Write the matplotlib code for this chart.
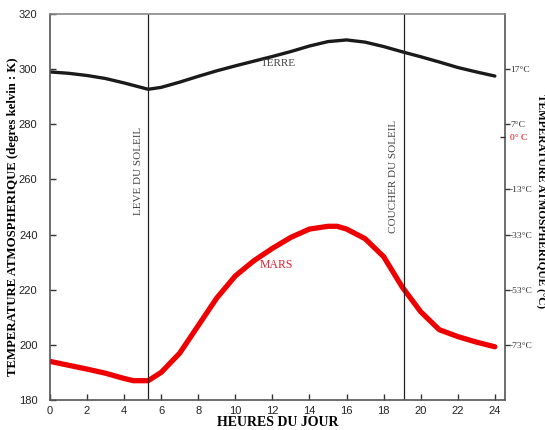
import matplotlib.pyplot as plt

plt.rcParams.update({'font.size': 8})

# heures du jour
hours_terre = [0, 1, 2, 3, 4, 5.3, 6, 7, 8, 9, 10, 11, 12, 13, 14, 15, 16,
               17, 18, 19, 20, 21, 22, 23, 24]
terre = [299, 298.5, 297.7, 296.6, 295, 292.7, 293.4, 295.3, 297.4, 299.4,
         301.2, 302.9, 304.6, 306.4, 308.4, 310.0, 310.6, 309.8, 308.2, 306.3,
         304.5, 302.6, 300.6, 299, 297.5]

hours_mars = [0, 1, 2, 3, 4, 4.5, 5.3, 6, 7, 8, 9, 10, 11, 12, 13, 14, 15,
              15.5, 16, 17, 18, 19, 20, 21, 22, 23, 24]
mars = [194, 192.6, 191.2, 189.7, 187.8, 187, 187, 190, 197, 207, 217, 225,
        230.5, 235, 239, 242, 243, 243, 242, 238.5, 232, 221, 212, 205.5,
        203, 201, 199.3]

lever, coucher = 5.3, 19.1

kelvin_ticks = [180, 200, 220, 240, 260, 280, 300, 320]
hour_ticks = list(range(0, 25, 2))
celsius_pos = [300, 280, 275.5, 256.5, 240, 220, 200]
celsius_labels = ['17°C', '7°C', '0° C', '-13°C', '-33°C', '-53°C', '-73°C']

serif = 'Liberation Serif'
sans = 'Liberation Sans'

fig = plt.figure(figsize=(5.45, 4.3), dpi=100)
ax = fig.add_axes([0.0917, 0.0698, 0.835, 0.8976])

ax.plot(hours_terre, terre, color='#1a1a1a', lw=2.4, solid_capstyle='round')
ax.plot(hours_mars, mars, color='#ee0000', lw=3.8, solid_capstyle='round')

ax.axvline(lever, color='#222222', lw=0.9)
ax.axvline(coucher, color='#222222', lw=0.9)

ax.text(lever - 0.3, 263, 'LEVE DU SOLEIL', rotation=90, ha='right', va='center',
        family=serif, fontsize=8, color='#444444')
ax.text(coucher - 0.3, 261, 'COUCHER DU SOLEIL', rotation=90, ha='right', va='center',
        family=serif, fontsize=8, color='#444444')
ax.text(12.3, 302, 'TERRE', ha='center', va='center', family=serif,
        fontsize=8, color='#444444')
ax.text(12.2, 229, 'MARS', ha='center', va='center', family=serif,
        fontsize=8.5, color='#dd2030')

ax.set_xlim(0, 24.55)
ax.set_ylim(180, 320)
ax.set_xticks(hour_ticks)
ax.set_yticks(kelvin_ticks)
ax.tick_params(direction='in', length=4, width=1, colors='#333333',
               labelsize=8)
ax.tick_params(axis='y', pad=9)
ax.tick_params(axis='x', pad=4)
for lab in ax.get_xticklabels() + ax.get_yticklabels():
    lab.set_family(sans)
    lab.set_color('#222222')

for s in ax.spines.values():
    s.set_color('#555555')
    s.set_linewidth(1.2)
ax.spines['top'].set_color('#888888')

ax.set_xlabel('HEURES DU JOUR', family=serif, fontweight='bold', fontsize=10,
              labelpad=0.5)
fig.text(13 / 545, 1 - 217 / 430, 'TEMPERATURE ATMOSPHERIQUE (degres kelvin : K)',
         family=serif, fontweight='bold', fontsize=9.2, rotation=90,
         ha='center', va='center')

ax2 = ax.twinx()
ax2.set_ylim(180, 320)
ax2.set_yticks(celsius_pos)
ax2.set_yticklabels(celsius_labels, family=serif, fontsize=6.8)
ax2.tick_params(direction='out', length=3.5, width=1, colors='#333333', pad=0)
for t, lab in zip(ax2.yaxis.get_major_ticks(), celsius_labels):
    if lab == '0° C':
        t.tick2line.set_color('#ee0000')
        t.tick2line.set_marker(0)
        t.label2.set_color('#ee0000')
for s in ax2.spines.values():
    s.set_visible(False)
fig.text(540.5 / 545, 1 - 201 / 430, 'TEMPERATURE ATMOSPHERIQUE (°C)',
         family=serif, fontweight='bold', fontsize=8.2, rotation=-90,
         ha='center', va='center')

fig.savefig('out.png', dpi=100)
